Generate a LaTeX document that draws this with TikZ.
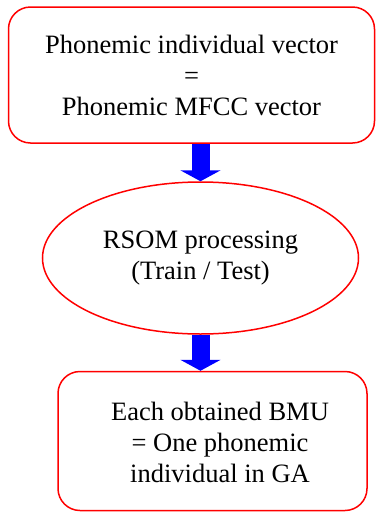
\documentclass[tikz,border=0pt]{standalone}
\usepackage{fontspec}
\setmainfont{Liberation Serif}
\usetikzlibrary{arrows.meta,shapes.geometric}
\definecolor{boxred}{RGB}{255,0,0}
\definecolor{flowblue}{RGB}{0,0,255}

\begin{document}
\begin{tikzpicture}[x=1pt,y=-1pt,
  every node/.style={font=\fontsize{26.5}{31}\selectfont,align=center},
  procbox/.style={draw=boxred,line width=1.5pt,rounded corners=22pt},
  procoval/.style={draw=boxred,ellipse,line width=1.5pt,inner sep=0pt},
  flowarrow/.style={flowblue,line width=18pt,-{Triangle[width=40pt,length=11pt]}}]
\useasboundingbox (0,0) rectangle (376,512);
\node[procbox,minimum width=366pt,minimum height=136pt] (vec) at (191.5,75) {Phonemic individual vector\\=\\Phonemic MFCC vector};
\node[procoval,minimum width=316pt,minimum height=152pt] (rsom) at (200.5,258) {RSOM processing\\(Train / Test)};
\node[procbox,minimum width=309pt,minimum height=139pt] (bmu) at (212.5,441) {};
\node (bmutext) at (220,442) {Each obtained BMU\\= One phonemic\\individual in GA};
\draw[flowarrow] (rsom.north |- vec.south) -- (rsom.north);
\draw[flowarrow] (rsom.south) -- (rsom.south |- bmu.north);
\end{tikzpicture}
\end{document}
